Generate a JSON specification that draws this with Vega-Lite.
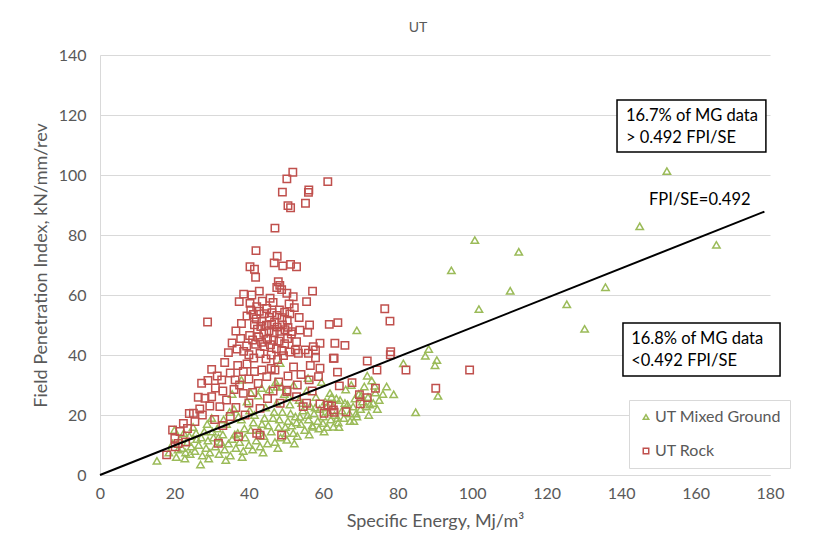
{
  "$schema": "https://vega.github.io/schema/vega-lite/v6.json",
  "width": 670,
  "height": 420,
  "autosize": {"type": "none"},
  "padding": {"left": 100, "top": 55, "right": 48, "bottom": 62},
  "background": "white",
  "config": {
    "font": "Lato",
    "view": {"stroke": null},
    "axis": {
      "labelFont": "Lato",
      "titleFont": "Lato",
      "labelColor": "#595959",
      "titleColor": "#595959",
      "labelFontSize": 16,
      "titleFontSize": 18,
      "titleFontWeight": "normal",
      "gridColor": "#d9d9d9",
      "gridWidth": 1,
      "domainColor": "#d9d9d9",
      "labelFlush": false,
      "ticks": false
    }
  },
  "title": {
    "text": "UT",
    "anchor": "middle",
    "fontSize": 14,
    "fontWeight": "normal",
    "font": "Lato",
    "color": "#595959",
    "dx": -17,
    "offset": 12
  },
  "datasets": {
    "points": [
      {"group": "UT Mixed Ground", "se": 15.3, "fpi": 4.7},
      {"group": "UT Mixed Ground", "se": 18.5, "fpi": 7.5},
      {"group": "UT Mixed Ground", "se": 19.5, "fpi": 10.5},
      {"group": "UT Mixed Ground", "se": 20.0, "fpi": 15.0},
      {"group": "UT Mixed Ground", "se": 20.5, "fpi": 6.0},
      {"group": "UT Mixed Ground", "se": 21.0, "fpi": 8.5},
      {"group": "UT Mixed Ground", "se": 21.5, "fpi": 12.0},
      {"group": "UT Mixed Ground", "se": 22.0, "fpi": 9.0},
      {"group": "UT Mixed Ground", "se": 22.5, "fpi": 14.0},
      {"group": "UT Mixed Ground", "se": 23.0, "fpi": 7.5},
      {"group": "UT Mixed Ground", "se": 23.5, "fpi": 11.0},
      {"group": "UT Mixed Ground", "se": 24.0, "fpi": 13.0},
      {"group": "UT Mixed Ground", "se": 24.5, "fpi": 9.5},
      {"group": "UT Mixed Ground", "se": 25.0, "fpi": 16.0},
      {"group": "UT Mixed Ground", "se": 25.5, "fpi": 8.0},
      {"group": "UT Mixed Ground", "se": 26.0, "fpi": 12.0},
      {"group": "UT Mixed Ground", "se": 26.5, "fpi": 10.0},
      {"group": "UT Mixed Ground", "se": 27.0, "fpi": 3.5},
      {"group": "UT Mixed Ground", "se": 27.5, "fpi": 6.5},
      {"group": "UT Mixed Ground", "se": 28.0, "fpi": 14.5},
      {"group": "UT Mixed Ground", "se": 28.5, "fpi": 9.0},
      {"group": "UT Mixed Ground", "se": 29.0, "fpi": 11.5},
      {"group": "UT Mixed Ground", "se": 29.5, "fpi": 7.5},
      {"group": "UT Mixed Ground", "se": 30.0, "fpi": 19.0},
      {"group": "UT Mixed Ground", "se": 30.5, "fpi": 12.5},
      {"group": "UT Mixed Ground", "se": 31.0, "fpi": 9.5},
      {"group": "UT Mixed Ground", "se": 31.5, "fpi": 15.5},
      {"group": "UT Mixed Ground", "se": 32.0, "fpi": 7.0},
      {"group": "UT Mixed Ground", "se": 32.5, "fpi": 11.0},
      {"group": "UT Mixed Ground", "se": 33.0, "fpi": 13.5},
      {"group": "UT Mixed Ground", "se": 33.5, "fpi": 8.5},
      {"group": "UT Mixed Ground", "se": 34.0, "fpi": 17.0},
      {"group": "UT Mixed Ground", "se": 34.5, "fpi": 10.5},
      {"group": "UT Mixed Ground", "se": 35.0, "fpi": 6.5},
      {"group": "UT Mixed Ground", "se": 35.5, "fpi": 12.0},
      {"group": "UT Mixed Ground", "se": 36.0, "fpi": 22.0},
      {"group": "UT Mixed Ground", "se": 36.5, "fpi": 9.0},
      {"group": "UT Mixed Ground", "se": 37.0, "fpi": 14.0},
      {"group": "UT Mixed Ground", "se": 37.5, "fpi": 11.0},
      {"group": "UT Mixed Ground", "se": 38.0, "fpi": 18.5},
      {"group": "UT Mixed Ground", "se": 38.5, "fpi": 8.0},
      {"group": "UT Mixed Ground", "se": 39.0, "fpi": 12.5},
      {"group": "UT Mixed Ground", "se": 39.5, "fpi": 24.5},
      {"group": "UT Mixed Ground", "se": 40.0, "fpi": 10.0},
      {"group": "UT Mixed Ground", "se": 40.5, "fpi": 15.0},
      {"group": "UT Mixed Ground", "se": 41.0, "fpi": 8.5},
      {"group": "UT Mixed Ground", "se": 41.5, "fpi": 20.0},
      {"group": "UT Mixed Ground", "se": 42.0, "fpi": 11.5},
      {"group": "UT Mixed Ground", "se": 42.5, "fpi": 26.5},
      {"group": "UT Mixed Ground", "se": 43.0, "fpi": 9.5},
      {"group": "UT Mixed Ground", "se": 43.5, "fpi": 17.0},
      {"group": "UT Mixed Ground", "se": 44.0, "fpi": 13.0},
      {"group": "UT Mixed Ground", "se": 44.5, "fpi": 22.5},
      {"group": "UT Mixed Ground", "se": 45.0, "fpi": 10.5},
      {"group": "UT Mixed Ground", "se": 45.5, "fpi": 28.5},
      {"group": "UT Mixed Ground", "se": 46.0, "fpi": 14.5},
      {"group": "UT Mixed Ground", "se": 46.5, "fpi": 19.0},
      {"group": "UT Mixed Ground", "se": 47.0, "fpi": 11.0},
      {"group": "UT Mixed Ground", "se": 47.5, "fpi": 24.0},
      {"group": "UT Mixed Ground", "se": 48.0, "fpi": 16.0},
      {"group": "UT Mixed Ground", "se": 48.5, "fpi": 12.5},
      {"group": "UT Mixed Ground", "se": 49.0, "fpi": 21.0},
      {"group": "UT Mixed Ground", "se": 49.5, "fpi": 27.0},
      {"group": "UT Mixed Ground", "se": 50.0, "fpi": 14.0},
      {"group": "UT Mixed Ground", "se": 50.2, "fpi": 11.7},
      {"group": "UT Mixed Ground", "se": 50.5, "fpi": 18.0},
      {"group": "UT Mixed Ground", "se": 51.0, "fpi": 23.5},
      {"group": "UT Mixed Ground", "se": 51.5, "fpi": 16.5},
      {"group": "UT Mixed Ground", "se": 51.9, "fpi": 14.0},
      {"group": "UT Mixed Ground", "se": 52.0, "fpi": 30.0},
      {"group": "UT Mixed Ground", "se": 52.5, "fpi": 19.5},
      {"group": "UT Mixed Ground", "se": 53.0, "fpi": 13.0},
      {"group": "UT Mixed Ground", "se": 53.5, "fpi": 25.0},
      {"group": "UT Mixed Ground", "se": 53.7, "fpi": 19.4},
      {"group": "UT Mixed Ground", "se": 54.0, "fpi": 17.0},
      {"group": "UT Mixed Ground", "se": 54.5, "fpi": 21.5},
      {"group": "UT Mixed Ground", "se": 55.0, "fpi": 15.0},
      {"group": "UT Mixed Ground", "se": 55.5, "fpi": 28.0},
      {"group": "UT Mixed Ground", "se": 56.0, "fpi": 18.5},
      {"group": "UT Mixed Ground", "se": 56.5, "fpi": 23.0},
      {"group": "UT Mixed Ground", "se": 57.0, "fpi": 16.5},
      {"group": "UT Mixed Ground", "se": 57.2, "fpi": 16.1},
      {"group": "UT Mixed Ground", "se": 57.5, "fpi": 20.5},
      {"group": "UT Mixed Ground", "se": 58.0, "fpi": 26.0},
      {"group": "UT Mixed Ground", "se": 58.5, "fpi": 18.0},
      {"group": "UT Mixed Ground", "se": 59.0, "fpi": 22.0},
      {"group": "UT Mixed Ground", "se": 59.5, "fpi": 31.0},
      {"group": "UT Mixed Ground", "se": 59.9, "fpi": 17.3},
      {"group": "UT Mixed Ground", "se": 60.0, "fpi": 19.5},
      {"group": "UT Mixed Ground", "se": 60.5, "fpi": 24.5},
      {"group": "UT Mixed Ground", "se": 61.0, "fpi": 16.0},
      {"group": "UT Mixed Ground", "se": 61.5, "fpi": 21.0},
      {"group": "UT Mixed Ground", "se": 61.8, "fpi": 27.3},
      {"group": "UT Mixed Ground", "se": 62.0, "fpi": 18.5},
      {"group": "UT Mixed Ground", "se": 62.5, "fpi": 23.0},
      {"group": "UT Mixed Ground", "se": 62.7, "fpi": 16.1},
      {"group": "UT Mixed Ground", "se": 63.0, "fpi": 20.0},
      {"group": "UT Mixed Ground", "se": 63.5, "fpi": 25.5},
      {"group": "UT Mixed Ground", "se": 64.0, "fpi": 17.5},
      {"group": "UT Mixed Ground", "se": 64.5, "fpi": 25.0},
      {"group": "UT Mixed Ground", "se": 65.0, "fpi": 21.5},
      {"group": "UT Mixed Ground", "se": 65.5, "fpi": 19.0},
      {"group": "UT Mixed Ground", "se": 66.0, "fpi": 28.5},
      {"group": "UT Mixed Ground", "se": 66.5, "fpi": 23.5},
      {"group": "UT Mixed Ground", "se": 67.0, "fpi": 20.5},
      {"group": "UT Mixed Ground", "se": 67.5, "fpi": 30.0},
      {"group": "UT Mixed Ground", "se": 68.0, "fpi": 22.8},
      {"group": "UT Mixed Ground", "se": 68.5, "fpi": 25.5},
      {"group": "UT Mixed Ground", "se": 69.0, "fpi": 19.5},
      {"group": "UT Mixed Ground", "se": 69.5, "fpi": 27.0},
      {"group": "UT Mixed Ground", "se": 70.0, "fpi": 22.0},
      {"group": "UT Mixed Ground", "se": 70.5, "fpi": 24.5},
      {"group": "UT Mixed Ground", "se": 71.0, "fpi": 29.5},
      {"group": "UT Mixed Ground", "se": 71.6, "fpi": 22.8},
      {"group": "UT Mixed Ground", "se": 72.0, "fpi": 26.0},
      {"group": "UT Mixed Ground", "se": 72.5, "fpi": 23.5},
      {"group": "UT Mixed Ground", "se": 73.0, "fpi": 31.5},
      {"group": "UT Mixed Ground", "se": 73.4, "fpi": 24.0},
      {"group": "UT Mixed Ground", "se": 74.0, "fpi": 27.5},
      {"group": "UT Mixed Ground", "se": 74.5, "fpi": 22.0},
      {"group": "UT Mixed Ground", "se": 75.0, "fpi": 25.0},
      {"group": "UT Mixed Ground", "se": 45.2, "fpi": 16.5},
      {"group": "UT Mixed Ground", "se": 46.8, "fpi": 21.0},
      {"group": "UT Mixed Ground", "se": 48.2, "fpi": 18.5},
      {"group": "UT Mixed Ground", "se": 49.8, "fpi": 16.0},
      {"group": "UT Mixed Ground", "se": 51.2, "fpi": 20.5},
      {"group": "UT Mixed Ground", "se": 52.8, "fpi": 17.5},
      {"group": "UT Mixed Ground", "se": 54.2, "fpi": 24.0},
      {"group": "UT Mixed Ground", "se": 55.8, "fpi": 20.0},
      {"group": "UT Mixed Ground", "se": 57.8, "fpi": 22.5},
      {"group": "UT Mixed Ground", "se": 58.8, "fpi": 15.5},
      {"group": "UT Mixed Ground", "se": 60.8, "fpi": 22.5},
      {"group": "UT Mixed Ground", "se": 62.2, "fpi": 26.0},
      {"group": "UT Mixed Ground", "se": 63.8, "fpi": 19.0},
      {"group": "UT Mixed Ground", "se": 65.8, "fpi": 24.0},
      {"group": "UT Mixed Ground", "se": 67.2, "fpi": 18.0},
      {"group": "UT Mixed Ground", "se": 68.8, "fpi": 20.5},
      {"group": "UT Mixed Ground", "se": 70.2, "fpi": 26.5},
      {"group": "UT Mixed Ground", "se": 50.8, "fpi": 26.0},
      {"group": "UT Mixed Ground", "se": 48.8, "fpi": 29.5},
      {"group": "UT Mixed Ground", "se": 47.2, "fpi": 31.0},
      {"group": "UT Mixed Ground", "se": 44.2, "fpi": 19.0},
      {"group": "UT Mixed Ground", "se": 42.8, "fpi": 15.0},
      {"group": "UT Mixed Ground", "se": 41.2, "fpi": 17.5},
      {"group": "UT Mixed Ground", "se": 40.2, "fpi": 21.5},
      {"group": "UT Mixed Ground", "se": 38.8, "fpi": 15.5},
      {"group": "UT Mixed Ground", "se": 37.2, "fpi": 19.5},
      {"group": "UT Mixed Ground", "se": 36.2, "fpi": 13.5},
      {"group": "UT Mixed Ground", "se": 34.8, "fpi": 21.0},
      {"group": "UT Mixed Ground", "se": 33.2, "fpi": 18.5},
      {"group": "UT Mixed Ground", "se": 31.8, "fpi": 12.5},
      {"group": "UT Mixed Ground", "se": 30.2, "fpi": 14.5},
      {"group": "UT Mixed Ground", "se": 28.8, "fpi": 17.0},
      {"group": "UT Mixed Ground", "se": 27.2, "fpi": 12.5},
      {"group": "UT Mixed Ground", "se": 25.8, "fpi": 14.0},
      {"group": "UT Mixed Ground", "se": 24.2, "fpi": 7.0},
      {"group": "UT Mixed Ground", "se": 22.8, "fpi": 5.5},
      {"group": "UT Mixed Ground", "se": 29.2, "fpi": 5.5},
      {"group": "UT Mixed Ground", "se": 33.8, "fpi": 5.0},
      {"group": "UT Mixed Ground", "se": 38.2, "fpi": 6.0},
      {"group": "UT Mixed Ground", "se": 43.8, "fpi": 7.5},
      {"group": "UT Mixed Ground", "se": 47.8, "fpi": 9.0},
      {"group": "UT Mixed Ground", "se": 52.2, "fpi": 10.5},
      {"group": "UT Mixed Ground", "se": 56.2, "fpi": 13.5},
      {"group": "UT Mixed Ground", "se": 60.2, "fpi": 14.5},
      {"group": "UT Mixed Ground", "se": 64.2, "fpi": 16.0},
      {"group": "UT Mixed Ground", "se": 68.2, "fpi": 18.0},
      {"group": "UT Mixed Ground", "se": 72.2, "fpi": 20.0},
      {"group": "UT Mixed Ground", "se": 48.4, "fpi": 37.3},
      {"group": "UT Mixed Ground", "se": 55.9, "fpi": 32.3},
      {"group": "UT Mixed Ground", "se": 38.0, "fpi": 31.7},
      {"group": "UT Mixed Ground", "se": 43.4, "fpi": 29.0},
      {"group": "UT Mixed Ground", "se": 47.5, "fpi": 29.4},
      {"group": "UT Mixed Ground", "se": 35.5, "fpi": 27.0},
      {"group": "UT Mixed Ground", "se": 40.5, "fpi": 27.5},
      {"group": "UT Mixed Ground", "se": 69.0, "fpi": 48.2},
      {"group": "UT Mixed Ground", "se": 88.3, "fpi": 42.0},
      {"group": "UT Mixed Ground", "se": 87.4, "fpi": 39.7},
      {"group": "UT Mixed Ground", "se": 90.5, "fpi": 38.3},
      {"group": "UT Mixed Ground", "se": 90.0, "fpi": 36.6},
      {"group": "UT Mixed Ground", "se": 81.5, "fpi": 37.2},
      {"group": "UT Mixed Ground", "se": 90.8, "fpi": 26.4},
      {"group": "UT Mixed Ground", "se": 78.9, "fpi": 26.9},
      {"group": "UT Mixed Ground", "se": 84.8, "fpi": 20.9},
      {"group": "UT Mixed Ground", "se": 71.8, "fpi": 33.1},
      {"group": "UT Mixed Ground", "se": 73.8, "fpi": 29.7},
      {"group": "UT Mixed Ground", "se": 76.0, "fpi": 27.0},
      {"group": "UT Mixed Ground", "se": 77.0, "fpi": 29.5},
      {"group": "UT Mixed Ground", "se": 100.7, "fpi": 78.3},
      {"group": "UT Mixed Ground", "se": 112.5, "fpi": 74.4},
      {"group": "UT Mixed Ground", "se": 94.4, "fpi": 68.2},
      {"group": "UT Mixed Ground", "se": 110.2, "fpi": 61.4},
      {"group": "UT Mixed Ground", "se": 101.8, "fpi": 55.3},
      {"group": "UT Mixed Ground", "se": 125.4, "fpi": 56.9},
      {"group": "UT Mixed Ground", "se": 130.2, "fpi": 48.7},
      {"group": "UT Mixed Ground", "se": 135.8, "fpi": 62.6},
      {"group": "UT Mixed Ground", "se": 145.0, "fpi": 82.9},
      {"group": "UT Mixed Ground", "se": 165.6, "fpi": 76.7},
      {"group": "UT Mixed Ground", "se": 152.3, "fpi": 101.3},
      {"group": "UT Rock", "se": 51.8, "fpi": 100.9},
      {"group": "UT Rock", "se": 50.2, "fpi": 98.7},
      {"group": "UT Rock", "se": 61.2, "fpi": 97.8},
      {"group": "UT Rock", "se": 49.0, "fpi": 94.3},
      {"group": "UT Rock", "se": 56.1, "fpi": 95.0},
      {"group": "UT Rock", "se": 56.0, "fpi": 94.2},
      {"group": "UT Rock", "se": 55.2, "fpi": 90.6},
      {"group": "UT Rock", "se": 50.5, "fpi": 89.8},
      {"group": "UT Rock", "se": 51.2, "fpi": 89.1},
      {"group": "UT Rock", "se": 47.0, "fpi": 82.3},
      {"group": "UT Rock", "se": 41.9, "fpi": 74.8},
      {"group": "UT Rock", "se": 47.6, "fpi": 72.9},
      {"group": "UT Rock", "se": 46.8, "fpi": 70.7},
      {"group": "UT Rock", "se": 40.3, "fpi": 69.4},
      {"group": "UT Rock", "se": 41.5, "fpi": 68.6},
      {"group": "UT Rock", "se": 49.1, "fpi": 69.7},
      {"group": "UT Rock", "se": 51.2, "fpi": 70.2},
      {"group": "UT Rock", "se": 52.8, "fpi": 69.4},
      {"group": "UT Rock", "se": 41.8, "fpi": 65.9},
      {"group": "UT Rock", "se": 47.9, "fpi": 64.4},
      {"group": "UT Rock", "se": 48.3, "fpi": 63.2},
      {"group": "UT Rock", "se": 47.5, "fpi": 62.5},
      {"group": "UT Rock", "se": 48.8, "fpi": 61.8},
      {"group": "UT Rock", "se": 57.1, "fpi": 61.3},
      {"group": "UT Rock", "se": 38.6, "fpi": 60.3},
      {"group": "UT Rock", "se": 42.8, "fpi": 61.3},
      {"group": "UT Rock", "se": 37.4, "fpi": 57.8},
      {"group": "UT Rock", "se": 40.3, "fpi": 57.2},
      {"group": "UT Rock", "se": 42.1, "fpi": 56.1},
      {"group": "UT Rock", "se": 45.7, "fpi": 58.9},
      {"group": "UT Rock", "se": 50.2, "fpi": 60.6},
      {"group": "UT Rock", "se": 51.9, "fpi": 59.4},
      {"group": "UT Rock", "se": 55.5, "fpi": 57.8},
      {"group": "UT Rock", "se": 40.8, "fpi": 60.0},
      {"group": "UT Rock", "se": 40.5, "fpi": 55.0},
      {"group": "UT Rock", "se": 41.2, "fpi": 53.5},
      {"group": "UT Rock", "se": 42.0, "fpi": 52.0},
      {"group": "UT Rock", "se": 42.8, "fpi": 54.6},
      {"group": "UT Rock", "se": 43.5, "fpi": 51.2},
      {"group": "UT Rock", "se": 44.1, "fpi": 53.8},
      {"group": "UT Rock", "se": 44.8, "fpi": 55.5},
      {"group": "UT Rock", "se": 45.5, "fpi": 52.5},
      {"group": "UT Rock", "se": 46.2, "fpi": 54.1},
      {"group": "UT Rock", "se": 46.9, "fpi": 51.0},
      {"group": "UT Rock", "se": 47.5, "fpi": 53.2},
      {"group": "UT Rock", "se": 48.2, "fpi": 55.0},
      {"group": "UT Rock", "se": 48.9, "fpi": 52.4},
      {"group": "UT Rock", "se": 49.6, "fpi": 54.3},
      {"group": "UT Rock", "se": 50.3, "fpi": 51.6},
      {"group": "UT Rock", "se": 51.0, "fpi": 53.7},
      {"group": "UT Rock", "se": 41.5, "fpi": 50.1},
      {"group": "UT Rock", "se": 42.3, "fpi": 48.6},
      {"group": "UT Rock", "se": 43.2, "fpi": 49.5},
      {"group": "UT Rock", "se": 44.0, "fpi": 47.2},
      {"group": "UT Rock", "se": 44.7, "fpi": 49.9},
      {"group": "UT Rock", "se": 45.4, "fpi": 48.1},
      {"group": "UT Rock", "se": 46.1, "fpi": 50.2},
      {"group": "UT Rock", "se": 46.8, "fpi": 47.5},
      {"group": "UT Rock", "se": 47.6, "fpi": 49.3},
      {"group": "UT Rock", "se": 48.3, "fpi": 47.9},
      {"group": "UT Rock", "se": 49.0, "fpi": 50.0},
      {"group": "UT Rock", "se": 49.7, "fpi": 48.4},
      {"group": "UT Rock", "se": 50.5, "fpi": 49.2},
      {"group": "UT Rock", "se": 51.4, "fpi": 47.0},
      {"group": "UT Rock", "se": 40.2, "fpi": 46.5},
      {"group": "UT Rock", "se": 41.0, "fpi": 45.0},
      {"group": "UT Rock", "se": 41.8, "fpi": 43.6},
      {"group": "UT Rock", "se": 42.6, "fpi": 46.0},
      {"group": "UT Rock", "se": 43.4, "fpi": 44.2},
      {"group": "UT Rock", "se": 44.2, "fpi": 42.8},
      {"group": "UT Rock", "se": 45.0, "fpi": 45.3},
      {"group": "UT Rock", "se": 45.8, "fpi": 43.4},
      {"group": "UT Rock", "se": 46.6, "fpi": 44.9},
      {"group": "UT Rock", "se": 47.4, "fpi": 42.1},
      {"group": "UT Rock", "se": 48.1, "fpi": 44.6},
      {"group": "UT Rock", "se": 48.8, "fpi": 41.5},
      {"group": "UT Rock", "se": 49.6, "fpi": 43.8},
      {"group": "UT Rock", "se": 50.4, "fpi": 45.5},
      {"group": "UT Rock", "se": 39.4, "fpi": 43.0},
      {"group": "UT Rock", "se": 38.6, "fpi": 41.2},
      {"group": "UT Rock", "se": 40.0, "fpi": 40.1},
      {"group": "UT Rock", "se": 41.3, "fpi": 39.0},
      {"group": "UT Rock", "se": 43.0, "fpi": 40.5},
      {"group": "UT Rock", "se": 44.6, "fpi": 38.7},
      {"group": "UT Rock", "se": 46.0, "fpi": 40.0},
      {"group": "UT Rock", "se": 47.7, "fpi": 38.5},
      {"group": "UT Rock", "se": 49.3, "fpi": 39.8},
      {"group": "UT Rock", "se": 51.0, "fpi": 41.0},
      {"group": "UT Rock", "se": 52.5, "fpi": 41.7},
      {"group": "UT Rock", "se": 52.8, "fpi": 44.4},
      {"group": "UT Rock", "se": 51.5, "fpi": 47.8},
      {"group": "UT Rock", "se": 53.7, "fpi": 48.3},
      {"group": "UT Rock", "se": 55.8, "fpi": 47.6},
      {"group": "UT Rock", "se": 56.3, "fpi": 50.0},
      {"group": "UT Rock", "se": 53.5, "fpi": 52.5},
      {"group": "UT Rock", "se": 52.2, "fpi": 55.8},
      {"group": "UT Rock", "se": 50.8, "fpi": 57.0},
      {"group": "UT Rock", "se": 46.5, "fpi": 57.5},
      {"group": "UT Rock", "se": 43.6, "fpi": 57.9},
      {"group": "UT Rock", "se": 39.5, "fpi": 53.0},
      {"group": "UT Rock", "se": 38.0, "fpi": 50.5},
      {"group": "UT Rock", "se": 36.5, "fpi": 48.0},
      {"group": "UT Rock", "se": 37.8, "fpi": 45.5},
      {"group": "UT Rock", "se": 35.5, "fpi": 44.0},
      {"group": "UT Rock", "se": 36.8, "fpi": 42.0},
      {"group": "UT Rock", "se": 34.5, "fpi": 40.8},
      {"group": "UT Rock", "se": 30.0, "fpi": 35.2},
      {"group": "UT Rock", "se": 27.3, "fpi": 30.6},
      {"group": "UT Rock", "se": 26.4, "fpi": 25.9},
      {"group": "UT Rock", "se": 28.2, "fpi": 25.6},
      {"group": "UT Rock", "se": 30.0, "fpi": 26.1},
      {"group": "UT Rock", "se": 32.7, "fpi": 31.7},
      {"group": "UT Rock", "se": 36.3, "fpi": 31.7},
      {"group": "UT Rock", "se": 38.5, "fpi": 27.2},
      {"group": "UT Rock", "se": 34.0, "fpi": 25.0},
      {"group": "UT Rock", "se": 32.2, "fpi": 22.8},
      {"group": "UT Rock", "se": 39.0, "fpi": 20.0},
      {"group": "UT Rock", "se": 33.5, "fpi": 37.5},
      {"group": "UT Rock", "se": 35.0, "fpi": 34.0},
      {"group": "UT Rock", "se": 37.0, "fpi": 36.5},
      {"group": "UT Rock", "se": 38.5, "fpi": 34.5},
      {"group": "UT Rock", "se": 39.5, "fpi": 37.0},
      {"group": "UT Rock", "se": 31.5, "fpi": 33.0},
      {"group": "UT Rock", "se": 29.0, "fpi": 31.5},
      {"group": "UT Rock", "se": 31.0, "fpi": 29.0},
      {"group": "UT Rock", "se": 33.0, "fpi": 28.0},
      {"group": "UT Rock", "se": 36.0, "fpi": 28.5},
      {"group": "UT Rock", "se": 37.5, "fpi": 30.0},
      {"group": "UT Rock", "se": 40.0, "fpi": 32.0},
      {"group": "UT Rock", "se": 41.5, "fpi": 34.5},
      {"group": "UT Rock", "se": 42.5, "fpi": 30.5},
      {"group": "UT Rock", "se": 43.5, "fpi": 35.0},
      {"group": "UT Rock", "se": 44.8, "fpi": 32.8},
      {"group": "UT Rock", "se": 46.0, "fpi": 35.5},
      {"group": "UT Rock", "se": 41.0, "fpi": 27.5},
      {"group": "UT Rock", "se": 40.0, "fpi": 24.0},
      {"group": "UT Rock", "se": 36.5, "fpi": 22.5},
      {"group": "UT Rock", "se": 35.0, "fpi": 19.5},
      {"group": "UT Rock", "se": 28.9, "fpi": 51.0},
      {"group": "UT Rock", "se": 25.1, "fpi": 20.6},
      {"group": "UT Rock", "se": 22.4, "fpi": 17.2},
      {"group": "UT Rock", "se": 20.1, "fpi": 12.2},
      {"group": "UT Rock", "se": 17.9, "fpi": 6.7},
      {"group": "UT Rock", "se": 20.2, "fpi": 9.4},
      {"group": "UT Rock", "se": 21.5, "fpi": 14.5},
      {"group": "UT Rock", "se": 23.5, "fpi": 15.5},
      {"group": "UT Rock", "se": 24.0, "fpi": 20.5},
      {"group": "UT Rock", "se": 25.5, "fpi": 17.8},
      {"group": "UT Rock", "se": 26.8, "fpi": 22.0},
      {"group": "UT Rock", "se": 27.5, "fpi": 20.0},
      {"group": "UT Rock", "se": 23.0, "fpi": 11.0},
      {"group": "UT Rock", "se": 21.0, "fpi": 10.5},
      {"group": "UT Rock", "se": 19.5, "fpi": 15.0},
      {"group": "UT Rock", "se": 29.5, "fpi": 23.0},
      {"group": "UT Rock", "se": 31.8, "fpi": 10.6},
      {"group": "UT Rock", "se": 37.2, "fpi": 12.8},
      {"group": "UT Rock", "se": 43.0, "fpi": 13.3},
      {"group": "UT Rock", "se": 48.8, "fpi": 13.3},
      {"group": "UT Rock", "se": 42.1, "fpi": 13.9},
      {"group": "UT Rock", "se": 30.8, "fpi": 18.5},
      {"group": "UT Rock", "se": 33.0, "fpi": 16.5},
      {"group": "UT Rock", "se": 48.4, "fpi": 23.9},
      {"group": "UT Rock", "se": 43.0, "fpi": 22.2},
      {"group": "UT Rock", "se": 50.2, "fpi": 27.8},
      {"group": "UT Rock", "se": 52.8, "fpi": 26.1},
      {"group": "UT Rock", "se": 55.5, "fpi": 23.9},
      {"group": "UT Rock", "se": 53.3, "fpi": 40.6},
      {"group": "UT Rock", "se": 56.0, "fpi": 40.6},
      {"group": "UT Rock", "se": 59.1, "fpi": 43.9},
      {"group": "UT Rock", "se": 57.3, "fpi": 42.8},
      {"group": "UT Rock", "se": 63.1, "fpi": 43.9},
      {"group": "UT Rock", "se": 62.7, "fpi": 38.9},
      {"group": "UT Rock", "se": 59.1, "fpi": 35.6},
      {"group": "UT Rock", "se": 61.3, "fpi": 23.3},
      {"group": "UT Rock", "se": 62.7, "fpi": 21.7},
      {"group": "UT Rock", "se": 61.6, "fpi": 50.2},
      {"group": "UT Rock", "se": 63.9, "fpi": 50.8},
      {"group": "UT Rock", "se": 65.8, "fpi": 43.2},
      {"group": "UT Rock", "se": 55.1, "fpi": 41.7},
      {"group": "UT Rock", "se": 57.9, "fpi": 41.7},
      {"group": "UT Rock", "se": 57.9, "fpi": 39.1},
      {"group": "UT Rock", "se": 62.9, "fpi": 38.9},
      {"group": "UT Rock", "se": 71.8, "fpi": 38.0},
      {"group": "UT Rock", "se": 78.1, "fpi": 41.1},
      {"group": "UT Rock", "se": 78.0, "fpi": 40.1},
      {"group": "UT Rock", "se": 74.4, "fpi": 35.0},
      {"group": "UT Rock", "se": 82.2, "fpi": 35.0},
      {"group": "UT Rock", "se": 99.3, "fpi": 35.0},
      {"group": "UT Rock", "se": 63.8, "fpi": 34.3},
      {"group": "UT Rock", "se": 67.7, "fpi": 30.8},
      {"group": "UT Rock", "se": 64.3, "fpi": 29.7},
      {"group": "UT Rock", "se": 58.7, "fpi": 32.8},
      {"group": "UT Rock", "se": 56.2, "fpi": 31.7},
      {"group": "UT Rock", "se": 69.7, "fpi": 26.8},
      {"group": "UT Rock", "se": 71.8, "fpi": 25.8},
      {"group": "UT Rock", "se": 74.0, "fpi": 28.9},
      {"group": "UT Rock", "se": 66.1, "fpi": 21.1},
      {"group": "UT Rock", "se": 62.9, "fpi": 20.9},
      {"group": "UT Rock", "se": 60.2, "fpi": 20.6},
      {"group": "UT Rock", "se": 62.2, "fpi": 23.0},
      {"group": "UT Rock", "se": 69.9, "fpi": 23.7},
      {"group": "UT Rock", "se": 59.1, "fpi": 23.7},
      {"group": "UT Rock", "se": 50.2, "fpi": 28.3},
      {"group": "UT Rock", "se": 54.6, "fpi": 22.8},
      {"group": "UT Rock", "se": 76.5, "fpi": 55.4},
      {"group": "UT Rock", "se": 77.9, "fpi": 51.3},
      {"group": "UT Rock", "se": 90.2, "fpi": 28.9},
      {"group": "UT Rock", "se": 46.5, "fpi": 28.0},
      {"group": "UT Rock", "se": 48.0, "fpi": 31.0},
      {"group": "UT Rock", "se": 45.0, "fpi": 25.5},
      {"group": "UT Rock", "se": 54.0, "fpi": 33.5},
      {"group": "UT Rock", "se": 52.0, "fpi": 36.0},
      {"group": "UT Rock", "se": 56.5, "fpi": 36.5},
      {"group": "UT Rock", "se": 50.5, "fpi": 33.0},
      {"group": "UT Rock", "se": 47.0, "fpi": 35.0},
      {"group": "UT Rock", "se": 53.0, "fpi": 30.0},
      {"group": "UT Rock", "se": 57.0, "fpi": 28.0}
    ],
    "ratio": [
      {"se": 0, "fpi": 0},
      {"se": 178.5, "fpi": 87.8}
    ],
    "boxes": [
      {"x1": 138.9, "x2": 178.9, "y1": 107.7, "y2": 125.0},
      {"x1": 140.5, "x2": 182.7, "y1": 33.0, "y2": 50.7}
    ],
    "notes": [
      {"se": 141.3, "fpi": 119.7, "label": ["16.7% of MG data", "> 0.492 FPI/SE"]},
      {"se": 142.7, "fpi": 45.3, "label": ["16.8% of MG data", "<0.492 FPI/SE"]},
      {"se": 147.5, "fpi": 91.7, "label": ["FPI/SE=0.492"]}
    ]
  },
  "layer": [
    {
      "data": {"name": "points"},
      "mark": {"type": "point", "filled": false, "strokeWidth": 1.5, "size": 55, "opacity": 1},
      "encoding": {
        "x": {
          "field": "se",
          "type": "quantitative",
          "scale": {"domain": [0, 180], "nice": false},
          "axis": {
            "title": "Specific Energy, Mj/m³",
            "values": [0, 20, 40, 60, 80, 100, 120, 140, 160, 180],
            "grid": false,
            "labelPadding": 10,
            "titlePadding": 11
          }
        },
        "y": {
          "field": "fpi",
          "type": "quantitative",
          "scale": {"domain": [0, 140], "nice": false},
          "axis": {
            "title": "Field Penetration Index, kN/mm/rev",
            "values": [0, 20, 40, 60, 80, 100, 120, 140],
            "labelPadding": 14,
            "titlePadding": 8
          }
        },
        "color": {
          "field": "group",
          "type": "nominal",
          "scale": {"domain": ["UT Mixed Ground", "UT Rock"], "range": ["#9BBB59", "#C0504D"]},
          "legend": {
            "title": null,
            "orient": "none",
            "legendX": 529,
            "legendY": 345,
            "padding": 9,
            "strokeColor": "#d9d9d9",
            "fillColor": "white",
            "labelFont": "Lato",
            "labelFontSize": 16,
            "labelColor": "#595959",
            "symbolSize": 30,
            "symbolStrokeWidth": 1.5,
            "rowPadding": 18,
            "labelOffset": 1
          }
        },
        "shape": {
          "field": "group",
          "type": "nominal",
          "scale": {"domain": ["UT Mixed Ground", "UT Rock"], "range": ["triangle-up", "square"]}
        }
      }
    },
    {
      "data": {"name": "ratio"},
      "mark": {"type": "line", "color": "black", "strokeWidth": 2},
      "encoding": {
        "x": {"field": "se", "type": "quantitative"},
        "y": {"field": "fpi", "type": "quantitative"}
      }
    },
    {
      "data": {"name": "boxes"},
      "mark": {"type": "rect", "fill": "white", "stroke": "black", "strokeWidth": 1.5},
      "encoding": {
        "x": {"field": "x1", "type": "quantitative"},
        "x2": {"field": "x2"},
        "y": {"field": "y1", "type": "quantitative"},
        "y2": {"field": "y2"}
      }
    },
    {
      "data": {"name": "notes"},
      "mark": {"type": "text", "align": "left", "baseline": "middle", "font": "Lato", "fontSize": 16.5, "color": "black", "lineHeight": 22},
      "encoding": {
        "x": {"field": "se", "type": "quantitative"},
        "y": {"field": "fpi", "type": "quantitative"},
        "text": {"field": "label"}
      }
    }
  ]
}
